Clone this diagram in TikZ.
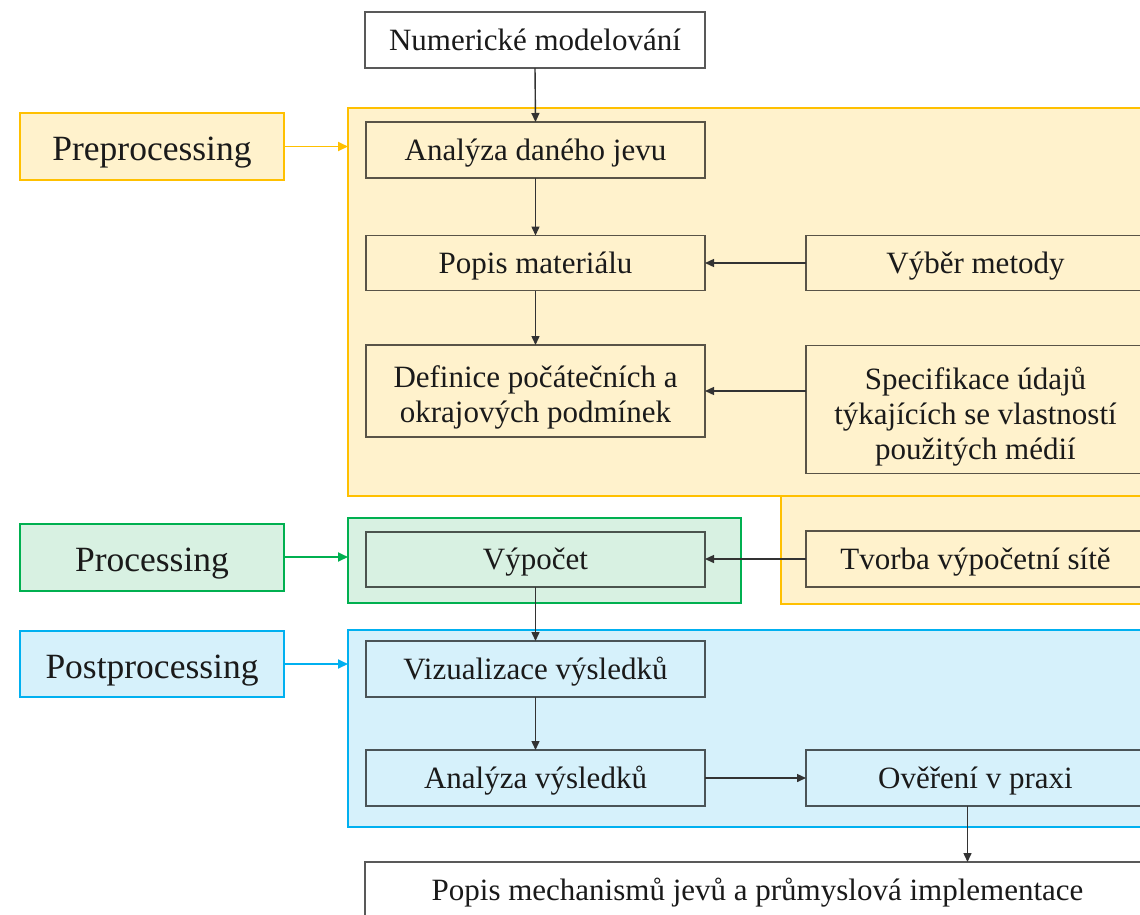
\documentclass[tikz,border=0pt]{standalone}
\usepackage{fontspec}
\setmainfont{Liberation Serif}
\usetikzlibrary{arrows.meta}
\definecolor{ylw}{HTML}{FFC000}
\definecolor{ylwfill}{HTML}{FFF2CC}
\definecolor{grn}{HTML}{00B050}
\definecolor{grnfill}{HTML}{D8F1E2}
\definecolor{blu}{HTML}{00B0F0}
\definecolor{blufill}{HTML}{D6F1FB}
\definecolor{txt}{HTML}{1A1A1A}
\definecolor{conn}{HTML}{333333}
\tikzset{
  panel/.style={draw, line width=2.6pt, inner sep=0pt, outer sep=0pt},
  box/.style={draw=black, draw opacity=0.65, line width=1.8pt, minimum width=339pt, inner sep=0pt, outer sep=0pt,
    align=center, text=txt, font=\fontsize{31}{35}\selectfont},
  one/.style={text height=26pt, text depth=6pt},
  lbl/.style={draw, line width=2pt, minimum width=264pt, minimum height=67pt, inner sep=0pt, outer sep=0pt,
    text=txt, font=\fontsize{35.5}{40}\selectfont, text height=30pt, text depth=2pt},
  conn/.style={draw=conn, line width=1.4pt, -{Triangle[length=9pt,width=8pt]}},
  lconn/.style={line width=1.8pt, -{Triangle[length=10pt,width=9pt]}}
}
\begin{document}
\begin{tikzpicture}[x=1pt,y=-1pt]
\useasboundingbox (0,0) rectangle (1140,914);
\clip (0,0) rectangle (1140,914);
\fill[white] (0,0) rectangle (1140,914);
% panels
\node[panel, draw=ylw, fill=ylwfill, minimum width=812pt, minimum height=388pt] (ypan) at (754,302) {};
\node[panel, draw=ylw, fill=ylwfill, minimum width=379pt, minimum height=108pt] (ypan2) at (970.5,550) {};
\node[panel, draw=grn, fill=grnfill, minimum width=393pt, minimum height=85pt] (gpan) at (544.5,560.5) {};
\node[panel, draw=blu, fill=blufill, minimum width=812pt, minimum height=197pt] (bpan) at (754,728.5) {};
% labels
\node[lbl, draw=ylw, fill=ylwfill] (pre) at (152,146.5) {Preprocessing};
\node[lbl, draw=grn, fill=grnfill, minimum height=67pt] (pro) at (152,557) {Processing};
\node[lbl, draw=blu, fill=blufill, minimum height=66pt] (post) at (152,664) {Postprocessing};
% boxes
\node[box, one, fill=white, minimum width=340pt, minimum height=56pt] (num) at (535,40) {Numerické modelování};
\node[box, one, minimum height=56pt] (ana) at (535.5,150) {Analýza daného jevu};
\node[box, one, minimum height=55pt] (pop) at (535.5,263) {Popis materiálu};
\node[box, one, minimum height=55pt] (vyb) at (975.5,263) {Výběr metody};
\node[box, minimum height=92pt] (def) at (535.5,391) {\rule{0pt}{35pt}Definice počátečních a\\okrajových podmínek};
\node[box, minimum height=128pt] (spec) at (975.5,409.5) {\rule{0pt}{37pt}Specifikace údajů\\týkajících se vlastností\\použitých médií};
\node[box, one, minimum height=55pt] (vyp) at (535.5,559.5) {Výpočet};
\node[box, one, minimum height=56pt] (tvo) at (975.5,559) {Tvorba výpočetní sítě};
\node[box, one, minimum height=56pt] (viz) at (535.5,669) {Vizualizace výsledků};
\node[box, one, minimum height=56pt] (anv) at (535.5,778) {Analýza výsledků};
\node[box, one, minimum height=56pt] (ove) at (975.5,778) {Ověření v praxi};
\node[box, one, fill=white, minimum width=785pt, minimum height=56pt] (popm) at (757.5,890) {Popis mechanismů jevů a průmyslová implementace};
% label connectors
\draw[lconn, draw=ylw, fill=ylw] (pre.east) -- (pre.east -| ypan.west);
\draw[lconn, draw=grn, fill=grn] (pro.east) -- (pro.east -| gpan.west);
\draw[lconn, draw=blu, fill=blu] (post.east) -- (post.east -| bpan.west);
% connectors
\draw[conn] (num.south) -- (ana.north);
\draw[conn] (ana.south) -- (pop.north);
\draw[conn] (pop.south) -- (def.north);
\draw[conn] (vyb.west) -- (pop.east);
\draw[conn] (spec.west |- def.east) -- (def.east);
\draw[conn] (tvo.west) -- (tvo.west -| vyp.east);
\draw[conn] (vyp.south) -- (viz.north);
\draw[conn] (viz.south) -- (anv.north);
\draw[conn] (anv.east) -- (ove.west);
\draw[conn] ([xshift=-8pt]ove.south) -- ([xshift=-8pt]ove.south |- popm.north);
\end{tikzpicture}
\end{document}
